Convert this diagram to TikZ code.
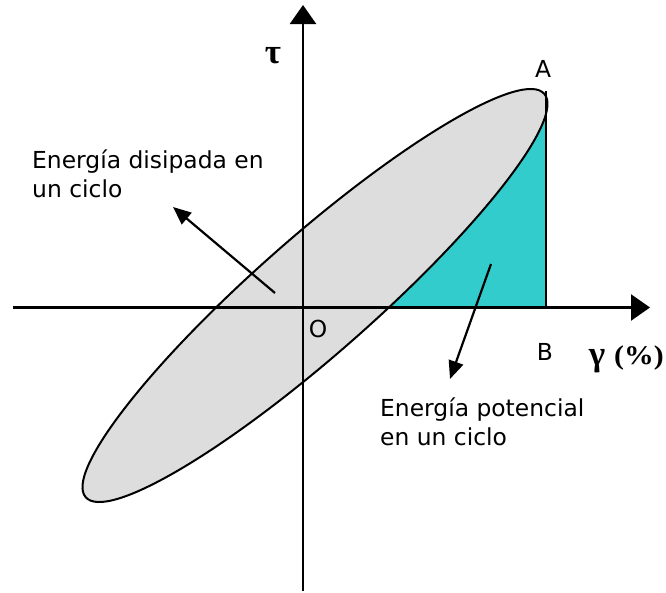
\documentclass[tikz,border=0pt]{standalone}
\usepackage{fontspec}
\setmainfont{DejaVu Sans}
\newfontfamily\grkfont{Liberation Serif}
\usetikzlibrary{arrows.meta}
\definecolor{ellgray}{RGB}{221,221,221}
\definecolor{tealfill}{RGB}{51,204,204}
\begin{document}
\begin{tikzpicture}[x=1pt,y=-1pt,
  axisline/.style={line width=2.4pt,-{Triangle[length=19pt,width=26pt]}},
  ptr/.style={line width=2.2pt,-{Triangle[length=18pt,width=15pt]}},
  lbl/.style={inner sep=0pt,font=\fontsize{23.4}{28}\selectfont},
  grk/.style={inner sep=0pt,font=\fontsize{35}{40}\grkfont\bfseries},
  pctstyle/.style={inner sep=0pt,font=\fontsize{27}{32}\grkfont\bfseries}]
\useasboundingbox (0,0) rectangle (666,592);
\coordinate (c) at (315,295.5);
% teal area
\fill[tealfill] (301,307) -- (546,307) -- (546,100) -- (540,98) -- cycle;
% ellipse
\draw[fill=ellgray,line width=2pt,rotate around={41.35:(c)}]
  (c) ellipse [x radius=305.4, y radius=58.5];
% vertical line A-B
\coordinate (vt) at (546,91);
\coordinate (vb) at (546,307);
\draw[line width=2.4pt] (vt) -- (vb);
% axes
\coordinate (xl) at (13,307.5);
\coordinate (xr) at (650,307.5);
\coordinate (yb) at (303,591);
\coordinate (yt) at (303,5);
\draw[axisline] (xl) -- (xr);
\draw[axisline] (yb) -- (yt);
% labels
\node[grk,anchor=base] (tau) at (273,63) {τ};
\node[lbl,anchor=base] (A) at (543,77) {A};
\node[lbl,anchor=base] (B) at (545,360) {B};
\node[lbl,anchor=base] (O) at (318,337) {O};
\node[grk,anchor=base] (gam) at (597,365) {γ};
\node[pctstyle,anchor=base west] (pct) at (614,364) {\scalebox{1.1}[1]{(\%)}};
\node[lbl,anchor=base west] (t1) at (32,168) {Energía disipada en};
\node[lbl,anchor=base west] (t1b) at (32,197) {un ciclo};
\node[lbl,anchor=base west] (t2) at (380,416) {Energía potencial};
\node[lbl,anchor=base west] (t2b) at (380,445) {en un ciclo};
% pointer arrows
\coordinate (p1s) at (275,293);
\coordinate (p1e) at (173,207);
\draw[ptr] (p1s) -- (p1e);
\coordinate (p2s) at (491,264);
\coordinate (p2e) at (450,379);
\draw[ptr] (p2s) -- (p2e);
\end{tikzpicture}
\end{document}
